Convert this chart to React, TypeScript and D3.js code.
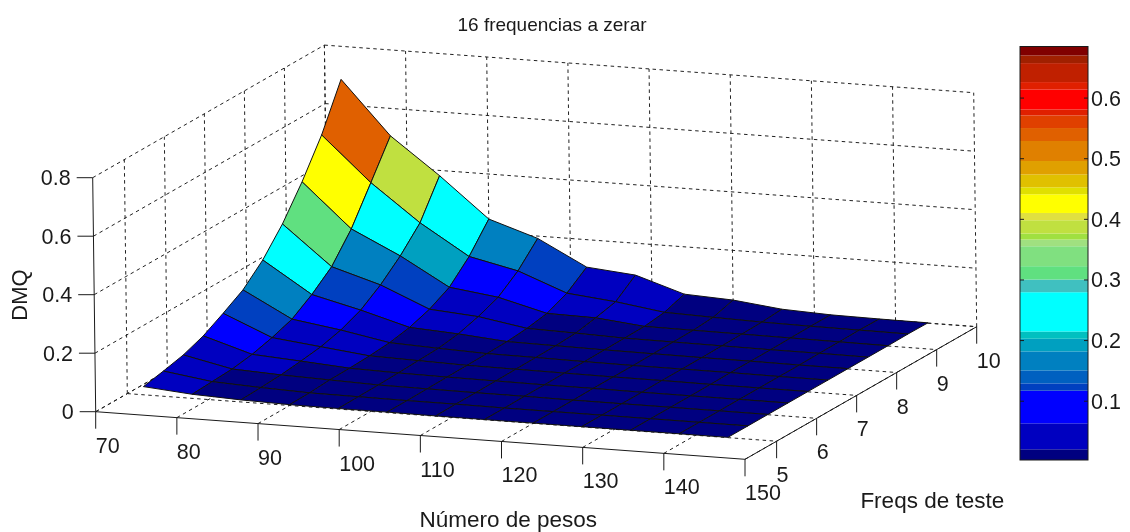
import React, {useEffect, useRef} from 'react';
import * as d3 from 'd3';

// surface samples
const weights = [72, 78, 84, 90, 96, 102, 108, 114, 120, 126, 132, 138, 144];
const freqs = [5, 5.5, 6, 6.5, 7, 7.5, 8, 8.5, 9, 9.5, 10];
// one row of DMQ per test frequency, same order as freqs
const dmq0 = [0.028, 0.014, 0.007, 0.003, 0.002, 0.002, 0.001, 0.001, 0.001, 0.001, 0.001, 0.001, 0.001];
const dmq1 = [0.042, 0.018, 0.01, 0.004, 0.003, 0.002, 0.002, 0.001, 0.001, 0.001, 0.001, 0.001, 0.001];
const dmq2 = [0.058, 0.022, 0.014, 0.009, 0.004, 0.003, 0.002, 0.002, 0.001, 0.001, 0.001, 0.001, 0.001];
const dmq3 = [0.084, 0.033, 0.022, 0.01, 0.006, 0.004, 0.003, 0.002, 0.002, 0.001, 0.001, 0.001, 0.001];
const dmq4 = [0.122, 0.051, 0.032, 0.013, 0.009, 0.005, 0.004, 0.003, 0.002, 0.002, 0.001, 0.001, 0.001];
const dmq5 = [0.163, 0.075, 0.05, 0.019, 0.012, 0.006, 0.005, 0.003, 0.002, 0.002, 0.002, 0.001, 0.001];
const dmq6 = [0.226, 0.12, 0.079, 0.032, 0.022, 0.008, 0.006, 0.004, 0.003, 0.002, 0.002, 0.001, 0.001];
const dmq7 = [0.31, 0.176, 0.126, 0.055, 0.042, 0.014, 0.01, 0.005, 0.004, 0.003, 0.002, 0.002, 0.001];
const dmq8 = [0.415, 0.266, 0.186, 0.091, 0.069, 0.026, 0.023, 0.006, 0.005, 0.004, 0.003, 0.002, 0.001];
const dmq9 = [0.536, 0.385, 0.26, 0.157, 0.12, 0.056, 0.039, 0.015, 0.01, 0.006, 0.004, 0.003, 0.002];
const dmq10 = [0.687, 0.506, 0.382, 0.246, 0.192, 0.106, 0.091, 0.038, 0.03, 0.011, 0.004, 0.002, 0.001];
const dmq = [dmq0, dmq1, dmq2, dmq3, dmq4, dmq5, dmq6, dmq7, dmq8, dmq9, dmq10];

// ticks
const xTicks = [70, 80, 90, 100, 110, 120, 130, 140, 150];
const fTicks = [5, 6, 7, 8, 9, 10];
const zTicks = [0, 0.2, 0.4, 0.6, 0.8];
const barTicks = [0.1, 0.2, 0.3, 0.4, 0.5, 0.6];

// colour map bands as they show in the colour bar, low to high
const bandEdges = [
  0.003, 0.0207, 0.0635, 0.1173, 0.1294, 0.1508, 0.1821, 0.203, 0.215, 0.2798,
  0.3007, 0.3227, 0.3556, 0.3666, 0.3765, 0.3985, 0.4105, 0.4413, 0.4528, 0.4742,
  0.4962, 0.5292, 0.5506, 0.5714, 0.5813, 0.6143, 0.6264, 0.6577, 0.6703, 0.6851,
];
const bandColors = [
  '#000080', '#0000c0', '#0000ff', '#0040c0', '#0060c0', '#0080c0', '#00a0c0', '#00c0c0',
  '#00ffff', '#40c0c0', '#60e080', '#80e080', '#a0e080', '#a0e040', '#c0e040', '#e0e040',
  '#ffff00', '#e0e000', '#e0c000', '#e0a000', '#e08000', '#e06000', '#e04000', '#e02000',
  '#ff0000', '#e02000', '#c02000', '#a02000', '#800000',
];

const FONT = '"Liberation Sans", Arial, sans-serif';
const INK = '#1a1a1a';

const App: React.FC = () => {
  const svgRef = useRef<SVGSVGElement>(null);

  useEffect(() => {
    const svg = d3.select(svgRef.current);
    svg.selectAll('*').remove();

    // axis scales run 0..1 along each edge of the box
    const xs = d3.scaleLinear().domain([70, 150]).range([0, 1]);
    const fs = d3.scaleLinear().domain([4.21, 10]).range([0, 1]);
    const zs = d3.scaleLinear().domain([0, 0.8]).range([0, 1]);
    const color = d3.scaleThreshold<number, string>()
      .domain(bandEdges.slice(1, -1))
      .range(bandColors);

    // orthographic view: box corner plus one vector per axis
    const project = (x: number, f: number, z: number): [number, number] => [
      95.7 + 649.3 * xs(x) + 231.7 * fs(f) - 3 * zs(z),
      411.7 + 47.6 * xs(x) - 132.6 * fs(f) - 234 * zs(z),
    ];
    const line = d3.line();
    const fMin = fs.domain()[0];

    // dashed box grid
    const grid = svg.append('g')
      .attr('fill', 'none')
      .attr('stroke', '#222')
      .attr('stroke-width', 1)
      .attr('stroke-dasharray', '3.5,3.5');
    const segment = (a: [number, number], b: [number, number]) =>
      grid.append('path').attr('d', line([a, b]));
    xTicks.forEach((x) => {
      segment(project(x, fMin, 0), project(x, 10, 0));
      segment(project(x, 10, 0), project(x, 10, 0.8));
    });
    fTicks.forEach((f) => {
      segment(project(70, f, 0), project(150, f, 0));
      segment(project(70, f, 0), project(70, f, 0.8));
    });
    zTicks.forEach((z) => {
      segment(project(70, fMin, z), project(70, 10, z));
      segment(project(70, 10, z), project(150, 10, z));
    });

    // box edges and ticks
    const axes = svg.append('g').attr('fill', 'none').attr('stroke', INK).attr('stroke-width', 1);
    const solid = (a: [number, number], b: [number, number]) =>
      axes.append('path').attr('d', line([a, b]));
    solid(project(70, fMin, 0), project(150, fMin, 0));
    solid(project(150, fMin, 0), project(150, 10, 0));
    solid(project(70, fMin, 0), project(70, fMin, 0.8));

    const label = (px: number, py: number, text: string, anchor = 'middle', size = 21.5) =>
      svg.append('text')
        .attr('x', px)
        .attr('y', py)
        .attr('text-anchor', anchor)
        .attr('font-family', FONT)
        .attr('font-size', size)
        .attr('fill', INK)
        .text(text);

    xTicks.forEach((x) => {
      const [px, py] = project(x, fMin, 0);
      solid([px, py], [px, py + 17]);
      label(px, py + 41, String(x), 'start');
    });
    fTicks.forEach((f) => {
      const [px, py] = project(150, f, 0);
      solid([px, py], [px, py + 17]);
      label(px, py + 41, String(f), 'start');
    });
    zTicks.forEach((z) => {
      const [px, py] = project(70, fMin, z);
      solid([px, py], [px - 16, py]);
      label(px - 22, py + 7.5, String(z), 'end');
    });

    // surface, back to front; each face takes the colour of its first corner
    const faces = svg.append('g').attr('stroke', '#111').attr('stroke-width', 1).attr('stroke-linejoin', 'round');
    for (let k = freqs.length - 2; k >= 0; k--) {
      for (let j = 0; j < weights.length - 1; j++) {
        const corners = [
          project(weights[j], freqs[k], dmq[k][j]),
          project(weights[j + 1], freqs[k], dmq[k][j + 1]),
          project(weights[j + 1], freqs[k + 1], dmq[k + 1][j + 1]),
          project(weights[j], freqs[k + 1], dmq[k + 1][j]),
        ];
        faces.append('path')
          .attr('d', line(corners) + 'Z')
          .attr('fill', color(dmq[k][j]));
      }
    }

    // colour bar
    const barY = d3.scaleLinear()
      .domain([bandEdges[0], bandEdges[bandEdges.length - 1]])
      .range([460, 46.5]);
    const barX0 = 1020;
    const barX1 = 1088;
    svg.append('g')
      .selectAll('rect')
      .data(bandColors)
      .enter()
      .append('rect')
      .attr('x', barX0)
      .attr('width', barX1 - barX0)
      .attr('y', (_d: string, i: number) => barY(bandEdges[i + 1]))
      .attr('height', (_d: string, i: number) => barY(bandEdges[i]) - barY(bandEdges[i + 1]))
      .attr('fill', (d: string) => d);
    svg.append('rect')
      .attr('x', barX0)
      .attr('y', barY.range()[1])
      .attr('width', barX1 - barX0)
      .attr('height', barY.range()[0] - barY.range()[1])
      .attr('fill', 'none')
      .attr('stroke', INK);
    barTicks.forEach((t) => {
      const py = barY(t);
      svg.append('path').attr('d', line([[barX0, py], [barX0 + 4, py]])).attr('stroke', INK);
      svg.append('path').attr('d', line([[barX1 - 4, py], [barX1, py]])).attr('stroke', INK);
      label(barX1 + 3, py + 7.5, String(t), 'start');
    });

    // titles
    label(552, 31, '16 frequencias a zerar', 'middle', 19);
    label(508.3, 526.5, 'Número de pesos', 'middle', 22.5);
    label(932.3, 508, 'Freqs de teste', 'middle', 22.5);
    label(0, 0, 'DMQ', 'middle', 22).attr('transform', 'translate(26.5,295) rotate(-90)');
  }, []);

  return (
    <svg
      ref={svgRef}
      width={1130}
      height={532}
      style={{position: 'absolute', left: 0, top: 0, background: '#fff', filter: 'blur(0.4px)'}}
    />
  );
};

export default App;
